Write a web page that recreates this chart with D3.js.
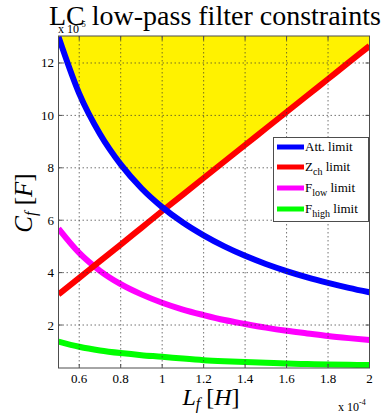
<!DOCTYPE html>
<html><head><meta charset="utf-8">
<script src="https://cdn.jsdelivr.net/npm/d3@7"></script>
<style>
html,body{margin:0;padding:0;background:#fff;}
svg text{font-family:"Liberation Serif","Times New Roman",serif;fill:#000;}
</style></head>
<body><svg id="c" width="386" height="415"></svg>
<script>
// Data (L in units of 1e-4 H, C in units of 1e-5 F)
const Lvals   = [0.5,0.6,0.7,0.8,0.9,1.0,1.1,1.2,1.3,1.4,1.5,1.6,1.7,1.8,1.9,2.0];
const attLimit = [13.0,10.83,9.29,8.13,7.22,6.5,5.91,5.42,5.0,4.64,4.33,4.06,3.82,3.61,3.42,3.25];
const zchLimit = [3.17,3.8,4.44,5.07,5.71,6.35,6.98,7.61,8.24,8.87,9.5,10.13,10.76,11.39,12.02,12.65];
const flowLimit = [5.68,4.75,4.07,3.56,3.17,2.85,2.59,2.38,2.19,2.04,1.9,1.78,1.68,1.58,1.5,1.43];
const fhighLimit = [1.37,1.17,1.03,0.93,0.85,0.79,0.72,0.66,0.62,0.59,0.56,0.53,0.51,0.49,0.48,0.47];
const xTicks = [0.6,0.8,1.0,1.2,1.4,1.6,1.8,2.0];
const yTicks = [2,4,6,8,10,12];
const seriesNames = ["Att. limit","Z|ch| limit","F|low| limit","F|high| limit"];
const seriesColors = ["#0000ff","#ff0000","#ff00ff","#00ff00"];

const svg = d3.select("#c");
const L = 58.5, R = 369.5, T = 36, B = 368;
const x = d3.scaleLinear().domain([0.5,2.0]).range([L,R]);
const y = d3.scaleLinear().domain([0.36,13.03]).range([B,T]);

svg.append("defs").append("clipPath").attr("id","clip")
  .append("rect").attr("x",L).attr("y",T).attr("width",R-L).attr("height",B-T);

const plot = svg.append("g").attr("clip-path","url(#clip)");

// feasible region (above both blue and red)
const area = d3.area()
  .x((d,i)=>x(Lvals[i]))
  .y0(()=>T)
  .y1((d,i)=>y(Math.max(attLimit[i],zchLimit[i])));
plot.append("path").datum(Lvals).attr("d",area).attr("fill","#fff200");

// grid
const grid = svg.append("g").attr("stroke","#333").attr("stroke-width",0.8).attr("stroke-dasharray","1.5,2.5").attr("opacity",0.85);
xTicks.forEach(t=>{ if(t<2.0) grid.append("line").attr("x1",x(t)).attr("x2",x(t)).attr("y1",T).attr("y2",B); });
yTicks.forEach(t=>{ grid.append("line").attr("x1",L).attr("x2",R).attr("y1",y(t)).attr("y2",y(t)); });

// curves
const allSeries = [attLimit,zchLimit,flowLimit,fhighLimit];
const line = d3.line().x((d,i)=>x(Lvals[i])).y(d=>y(d)).curve(d3.curveMonotoneX);
[3,2,1,0].forEach(k=>{
  plot.append("path").datum(allSeries[k]).attr("d",line)
    .attr("fill","none").attr("stroke",seriesColors[k]).attr("stroke-width",6).attr("stroke-linejoin","round");
});

// axes box
const ax = svg.append("g");
ax.append("rect").attr("x",L).attr("y",T).attr("width",R-L).attr("height",B-T)
  .attr("fill","none").attr("stroke","#4d4d4d").attr("stroke-width",1);

// ticks (inward, both sides)
const tk = ax.append("g").attr("stroke","#4d4d4d").attr("stroke-width",1);
xTicks.forEach(t=>{
  tk.append("line").attr("x1",x(t)).attr("x2",x(t)).attr("y1",B).attr("y2",B-4);
  tk.append("line").attr("x1",x(t)).attr("x2",x(t)).attr("y1",T).attr("y2",T+4);
});
yTicks.forEach(t=>{
  tk.append("line").attr("x1",L).attr("x2",L+4).attr("y1",y(t)).attr("y2",y(t));
  tk.append("line").attr("x1",R).attr("x2",R-4).attr("y1",y(t)).attr("y2",y(t));
});

// tick labels
const fmtX = d3.format("~g");
xTicks.forEach(t=>{
  svg.append("text").attr("x",x(t)).attr("y",383).attr("text-anchor","middle")
    .attr("font-size",13).text(fmtX(t));
});
yTicks.forEach(t=>{
  svg.append("text").attr("x",54).attr("y",y(t)+4.5).attr("text-anchor","end")
    .attr("font-size",13).text(t);
});

// title
svg.append("text").attr("x",215).attr("y",25).attr("text-anchor","middle")
  .attr("font-size",28).text("LC low-pass filter constraints");

// exponent labels
const e1 = svg.append("text").attr("x",58).attr("y",33).attr("font-size",12);
e1.append("tspan").text("x 10");
e1.append("tspan").attr("dy",-6).attr("font-size",8).text("-5");
const e2 = svg.append("text").attr("x",338).attr("y",411).attr("font-size",12);
e2.append("tspan").text("x 10");
e2.append("tspan").attr("dy",-6).attr("font-size",8).text("-4");

// axis labels
const xl = svg.append("text").attr("x",211).attr("y",405).attr("text-anchor","middle").attr("font-size",24);
xl.append("tspan").attr("font-style","italic").text("L");
xl.append("tspan").attr("font-style","italic").attr("font-size",16).attr("dy",4).text("f");
xl.append("tspan").attr("dy",-4).text(" [");
xl.append("tspan").attr("font-style","italic").text("H");
xl.append("tspan").text("]");

const yl = svg.append("text").attr("transform","translate(32,203) rotate(-90)").attr("text-anchor","middle").attr("font-size",25);
yl.append("tspan").attr("font-style","italic").text("C");
yl.append("tspan").attr("font-style","italic").attr("font-size",16).attr("dy",4).text("f");
yl.append("tspan").attr("dy",-4).text(" [");
yl.append("tspan").attr("font-style","italic").text("F");
yl.append("tspan").text("]");

// legend
const lg = svg.append("g");
lg.append("rect").attr("x",273.5).attr("y",137.5).attr("width",95).attr("height",84)
  .attr("fill","#fff").attr("stroke","#4d4d4d").attr("stroke-width",1);
const rowY = [147,167,188,209];
seriesNames.forEach((name,i)=>{
  lg.append("line").attr("x1",277).attr("x2",304).attr("y1",rowY[i]).attr("y2",rowY[i])
    .attr("stroke",seriesColors[i]).attr("stroke-width",5);
  const parts = name.split("|");
  const t = lg.append("text").attr("x",305).attr("y",rowY[i]+4).attr("font-size",13);
  t.append("tspan").text(parts[0]);
  if(parts.length>1){
    t.append("tspan").attr("font-size",10).attr("dy",4).text(parts[1]);
    t.append("tspan").attr("dy",-4).text(parts[2]);
  }
});
</script></body></html>
